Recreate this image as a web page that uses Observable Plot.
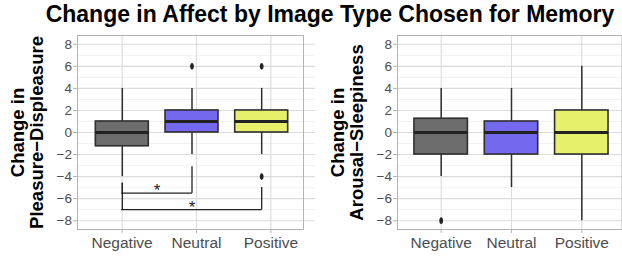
<!DOCTYPE html>
<html><head><meta charset="utf-8">
<script src="https://cdn.jsdelivr.net/npm/d3@7"></script>
<script src="https://cdn.jsdelivr.net/npm/@observablehq/plot@0.6"></script>
<style>
html,body{margin:0;padding:0;background:#fff;overflow:hidden;}
#chart{position:relative;width:622px;height:256px;font-family:"Liberation Sans",Arial,sans-serif;}
#chart svg{position:absolute;left:0;top:0;}
#title{position:absolute;left:19px;top:2.5px;width:622px;text-align:center;font-size:23px;line-height:23px;font-weight:bold;color:#000;white-space:nowrap;}
</style></head><body>
<div id="chart"><div id="title">Change in Affect by Image Type Chosen for Memory</div></div>
<script>
// ---- data ----
const categories = ["Negative", "Neutral", "Positive"];
const fills = ["#6d6d6d", "#7468ee", "#e6f06b"];
const yTicks = [-8, -6, -4, -2, 0, 2, 4, 6, 8];
const yMinor = [-7, -5, -3, -1, 1, 3, 5, 7];

// Pleasure–Displeasure boxes
const pleasureQ1 = [-1.25, 0, 0];
const pleasureMedian = [0, 1, 1];
const pleasureQ3 = [1, 2, 2];
const pleasureLow = [-4, -2, -2];
const pleasureHigh = [4, 4, 4];
const pleasureOutlierCat = ["Neutral", "Positive", "Positive"];
const pleasureOutlierVal = [6, 6, -4];

// Arousal–Sleepiness boxes
const arousalQ1 = [-2, -2, -2];
const arousalMedian = [0, 0, 0];
const arousalQ3 = [1.25, 1, 2];
const arousalLow = [-4, -5, -8];
const arousalHigh = [4, 4, 6];
const arousalOutlierCat = ["Negative"];
const arousalOutlierVal = [-8];

// significance brackets (pleasure panel)
const bracketFrom = ["Negative", "Negative"];
const bracketTo = ["Neutral", "Positive"];
const bracketY = [-5.5, -7];
const bracketTipFrom = [-4.6, -4.6];
const bracketTipTo = [-3.1, -5];
const bracketLabel = ["*", "*"];

// ---- tables ----
const idx = c => categories.indexOf(c);
function boxTable(q1, med, q3, lo, hi) {
  return categories.map((c, i) => ({cat: c, i, q1: q1[i], med: med[i], q3: q3[i], lo: lo[i], hi: hi[i]}));
}
const pleasure = boxTable(pleasureQ1, pleasureMedian, pleasureQ3, pleasureLow, pleasureHigh);
const arousal = boxTable(arousalQ1, arousalMedian, arousalQ3, arousalLow, arousalHigh);
const pleasureOut = pleasureOutlierCat.map((c, k) => ({cat: c, v: pleasureOutlierVal[k]}));
const arousalOut = arousalOutlierCat.map((c, k) => ({cat: c, v: arousalOutlierVal[k]}));
const brackets = bracketFrom.map((f, k) => ({a: idx(f), b: idx(bracketTo[k]), y: bracketY[k], ta: bracketTipFrom[k], tb: bracketTipTo[k], label: bracketLabel[k]}));

// ---- style ----
const W = 622, H = 256, TOP = 35, BOTTOM = 27;
const BW = 0.76;
const outline = "#2e2e2e";
const ellipse = {
  draw(ctx, size) {
    const r = Math.sqrt(size / Math.PI), rx = r * 0.72, ry = r * 1.3, k = 0.5523;
    ctx.moveTo(rx, 0);
    ctx.bezierCurveTo(rx, ry * k, rx * k, ry, 0, ry);
    ctx.bezierCurveTo(-rx * k, ry, -rx, ry * k, -rx, 0);
    ctx.bezierCurveTo(-rx, -ry * k, -rx * k, -ry, 0, -ry);
    ctx.bezierCurveTo(rx * k, -ry, rx, -ry * k, rx, 0);
    ctx.closePath();
  }
};
const yScale = {domain: [-8.8, 8.8], axis: null};
const colorScale = {domain: categories, range: fills};
const svgStyle = {background: "transparent", overflow: "visible", fontFamily: "Liberation Sans, Arial, sans-serif"};

function backgroundMarks(line1, line2) {
  return [
    Plot.ruleY(yMinor, {stroke: "#ebebeb", strokeWidth: 0.7}),
    Plot.ruleY(yTicks, {stroke: "#dcdcdc", strokeWidth: 1.1}),
    Plot.ruleX(categories.map((c, i) => i), {stroke: "#dcdcdc", strokeWidth: 1.1}),
    Plot.axisY({ticks: yTicks, tickSize: 4, tickPadding: 1.5, stroke: "#b3b3b3", fill: "#4d4d4d", fontSize: 13.5, label: null}),
    Plot.axisX({ticks: categories.map((c, i) => i), tickFormat: i => categories[i], tickSize: 4, tickPadding: 3, stroke: "#b3b3b3", fill: "#4d4d4d", fontSize: 15.5, label: null}),
    Plot.text([line1], {text: d => d, frameAnchor: "left", textAnchor: "middle", rotate: -90, dx: -59.5, fontSize: 18.5, fontWeight: "bold", fill: "#000"}),
    Plot.text([line2], {text: d => d, frameAnchor: "left", textAnchor: "middle", rotate: -90, dx: -40.5, fontSize: 18.5, fontWeight: "bold", fill: "#000"})
  ];
}
function boxMarks(boxes, outs) {
  return [
    Plot.ruleX(boxes, {x: "i", y1: "q3", y2: "hi", stroke: outline, strokeWidth: 1.5}),
    Plot.ruleX(boxes, {x: "i", y1: "lo", y2: "q1", stroke: outline, strokeWidth: 1.5}),
    Plot.rect(boxes, {x1: d => d.i - BW / 2, x2: d => d.i + BW / 2, y1: "q1", y2: "q3", fill: "cat", stroke: outline, strokeWidth: 1.6}),
    Plot.ruleY(boxes, {y: "med", x1: d => d.i - BW / 2, x2: d => d.i + BW / 2, stroke: "#222", strokeWidth: 2.9}),
    Plot.dot(outs, {x: d => idx(d.cat), y: "v", r: 2.6, symbol: ellipse, fill: "#222", stroke: "none"})
  ];
}

const chart = document.getElementById("chart");

// left panel: grid & axes layer
chart.append(Plot.plot({
  width: W, height: H, marginLeft: 77, marginRight: W - 315, marginTop: TOP, marginBottom: BOTTOM,
  x: {domain: [-0.6, 2.6], axis: null}, y: yScale, style: svgStyle,
  marks: backgroundMarks("Change in", "Pleasure\u2212Displeasure")
}));
// left panel: boxes layer
chart.append(Plot.plot({
  width: W, height: H, marginLeft: 77, marginRight: W - 303, marginTop: TOP, marginBottom: BOTTOM,
  x: {domain: [-0.6, 2.6], insetLeft: 3, axis: null}, y: yScale, color: colorScale, style: svgStyle,
  marks: [
    Plot.frame({stroke: "#b3b3b3", strokeWidth: 1}),
    ...boxMarks(pleasure, pleasureOut),
    Plot.ruleY(brackets, {y: "y", x1: "a", x2: "b", stroke: "#222", strokeWidth: 1.3, strokeLinecap: "square"}),
    Plot.ruleX(brackets, {x: "a", y1: "y", y2: "ta", stroke: "#222", strokeWidth: 1.3}),
    Plot.ruleX(brackets, {x: "b", y1: "y", y2: "tb", stroke: "#222", strokeWidth: 1.3}),
    Plot.text(brackets, {x: d => (d.a + d.b) / 2, y: "y", text: "label", dy: -2.2, fontSize: 17, fill: "#222"})
  ]
}));
// right panel
chart.append(Plot.plot({
  width: W, height: H, marginLeft: 397, marginRight: 0.5, marginTop: TOP, marginBottom: BOTTOM,
  x: {domain: [-0.6, 2.6], insetLeft: 1.5, insetRight: -2, axis: null}, y: yScale, color: colorScale, style: svgStyle,
  marks: [
    ...backgroundMarks("Change in", "Arousal\u2212Sleepiness"),
    Plot.frame({stroke: "#b3b3b3", strokeWidth: 1}),
    ...boxMarks(arousal, arousalOut)
  ]
}));
</script>
</body></html>
